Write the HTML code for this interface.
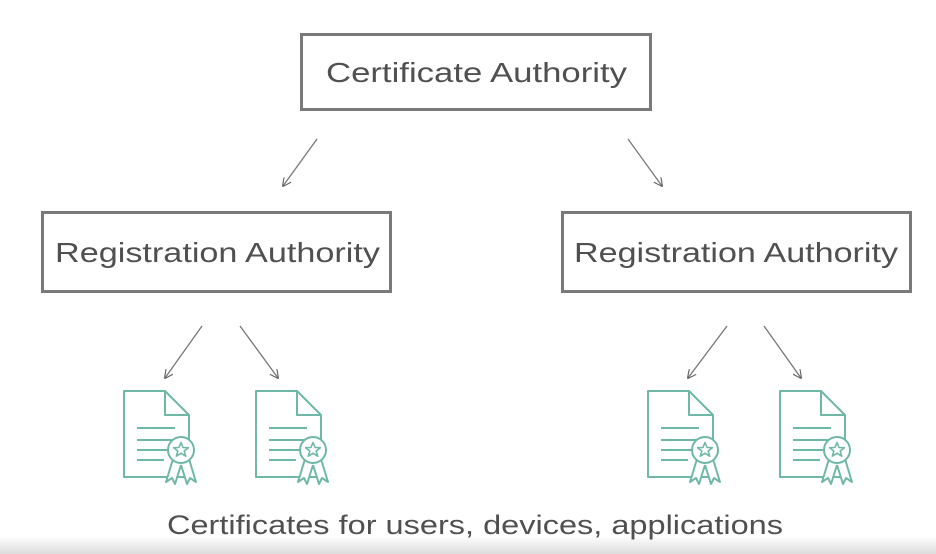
<!DOCTYPE html>
<html><head><style>
html,body{margin:0;padding:0;background:#fff;}
svg{display:block;}
text{font-family:"Liberation Sans",sans-serif;fill:#505050;}
</style></head><body>
<svg width="936" height="554" viewBox="0 0 936 554" xmlns="http://www.w3.org/2000/svg">
<defs>
<linearGradient id="g" x1="0" y1="0" x2="0" y2="1">
<stop offset="0" stop-color="#fff"/><stop offset="1" stop-color="#dcdcdc"/>
</linearGradient>
<marker id="a" viewBox="0 0 10 10" refX="9" refY="5" markerWidth="9" markerHeight="9" orient="auto" markerUnits="userSpaceOnUse">
<path d="M0,0 L10,5 L0,10" fill="none" stroke="#666" stroke-width="1.3"/>
</marker>
<g id="c" fill="none" stroke="#6fb8a8" stroke-width="2" stroke-linejoin="round">
<path d="M0,0 H41 L65,24 V86 H0 Z"/>
<path d="M41,0 V24 H65"/>
<path d="M13,37 H51 M13,49 H51 M13,59 H45 M13,69 H40"/>
<path d="M49,68 L42,91 48,87 51,93 57,74 M65,68 L72,91 66,87 63,93 57,74" fill="#fff"/>
<circle cx="57" cy="59" r="13" fill="#fff"/>
<path d="M57,51.5 l2.1,5 5.3,0.2 -4.2,3.3 1.5,5.2 -4.7,-3 -4.7,3 1.5,-5.2 -4.2,-3.3 5.3,-0.2 z" stroke-width="1.6"/>
</g>
</defs>
<rect x="0" y="536" width="936" height="18" fill="url(#g)"/>
<rect x="301.5" y="34.5" width="349" height="75" fill="none" stroke="#7a7a7a" stroke-width="3"/>
<text x="326" y="82" font-size="28" textLength="301" lengthAdjust="spacingAndGlyphs">Certificate Authority</text>
<rect x="42.5" y="212.5" width="348" height="79" fill="none" stroke="#7a7a7a" stroke-width="3"/>
<text x="55" y="262" font-size="28" textLength="325" lengthAdjust="spacingAndGlyphs">Registration Authority</text>
<rect x="562.5" y="212.5" width="348" height="79" fill="none" stroke="#7a7a7a" stroke-width="3"/>
<text x="574" y="262" font-size="28" textLength="324" lengthAdjust="spacingAndGlyphs">Registration Authority</text>
<g stroke="#777" stroke-width="1.3" marker-end="url(#a)">
<line x1="317" y1="139" x2="283" y2="186"/>
<line x1="628" y1="139" x2="662" y2="186"/>
<line x1="202" y1="326" x2="165" y2="378"/>
<line x1="240" y1="326" x2="278" y2="378"/>
<line x1="727" y1="326" x2="688" y2="378"/>
<line x1="764" y1="326" x2="801" y2="378"/>
</g>
<use href="#c" x="124" y="391"/>
<use href="#c" x="256" y="391"/>
<use href="#c" x="648" y="391"/>
<use href="#c" x="780" y="391"/>
<text x="167" y="534" font-size="27" textLength="616" lengthAdjust="spacingAndGlyphs">Certificates for users, devices, applications</text>
</svg>
</body></html>
